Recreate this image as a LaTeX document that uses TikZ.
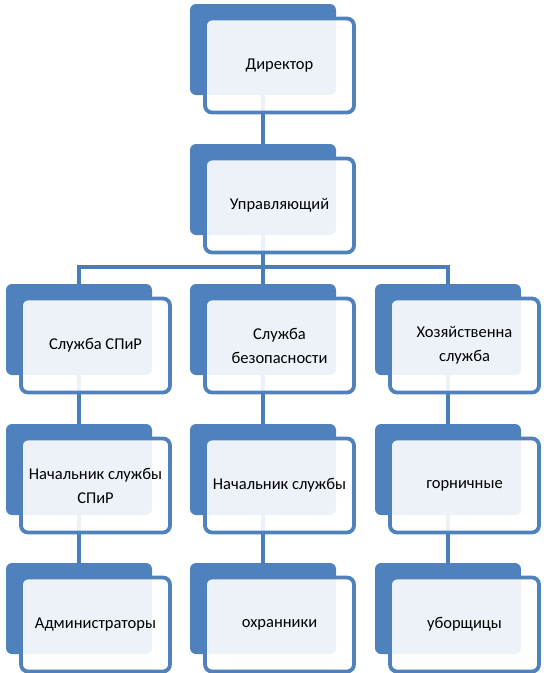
\documentclass[tikz,border=0pt]{standalone}
\usepackage{fontspec}
\setmainfont{Carlito}
\usetikzlibrary{positioning}
\definecolor{blu}{HTML}{4F81BD}
\definecolor{linkblu}{HTML}{4A7EBB}

\begin{document}
\begin{tikzpicture}[x=1pt,y=-1pt,
	back/.style={fill=blu,rounded corners=6pt,minimum width=146pt,minimum height=91pt,inner sep=0pt,outer sep=0pt,anchor=north west},
	front/.style={draw=blu,line width=3.8pt,fill=white,fill opacity=0.9,text opacity=1,rounded corners=7pt,minimum width=149pt,minimum height=94pt,inner sep=0pt,outer sep=0pt,align=center,font=\fontsize{16.5}{24}\selectfont,below right=14.5pt and 15pt of #1.north west},
	link/.style={draw=linkblu,line width=4pt}]
	\useasboundingbox (0,0) rectangle (544,673);
	\node[back] (dirB) at (190,4) {};
	\node[back] (mgrB) at (190,144) {};
	\node[back] (spirB) at (6,284) {};
	\node[back] (secB) at (190,284) {};
	\node[back] (hozB) at (375,284) {};
	\node[back] (spirheadB) at (6,424) {};
	\node[back] (secheadB) at (190,424) {};
	\node[back] (maidsB) at (375,424) {};
	\node[back] (adminsB) at (6,563) {};
	\node[back] (guardsB) at (190,563) {};
	\node[back] (cleanersB) at (375,563) {};
	\coordinate (bus) at (263,267);
	\draw[link] (dirB.south) -- (mgrB.north);
	\draw[link] (mgrB.south) -- (secB.north);
	\draw[link] (spirB.north) |- (bus) -| (hozB.north);
	\draw[link] (spirB.south) -- (spirheadB.north);
	\draw[link] (spirheadB.south) -- (adminsB.north);
	\draw[link] (secB.south) -- (secheadB.north);
	\draw[link] (secheadB.south) -- (guardsB.north);
	\draw[link] (hozB.south) -- (maidsB.north);
	\draw[link] (maidsB.south) -- (cleanersB.north);
	\node[front=dirB] (dir) {Директор};
	\node[front=mgrB] (mgr) {Управляющий};
	\node[front=spirB] (spir) {Служба СПиР};
	\node[front=secB] (sec) {Служба\\безопасности};
	\node[front=hozB] (hoz) {Хозяйственна\\служба};
	\node[front=spirheadB] (spirhead) {Начальник службы\\СПиР};
	\node[front=secheadB] (sechead) {Начальник службы};
	\node[front=maidsB] (maids) {горничные};
	\node[front=adminsB] (admins) {Администраторы};
	\node[front=guardsB] (guards) {охранники};
	\node[front=cleanersB] (cleaners) {уборщицы};
\end{tikzpicture}
\end{document}
